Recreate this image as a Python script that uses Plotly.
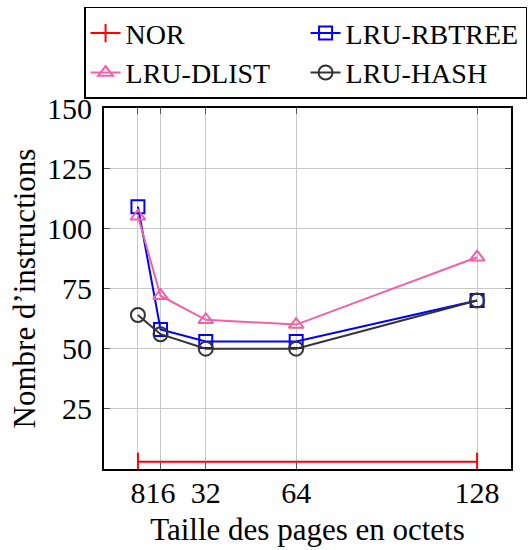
import plotly.graph_objects as go

page_sizes = [8, 16, 32, 64, 128]
nor_x = [8, 128]
nor_y = [3, 3]
rbtree = [109, 58, 53, 53, 70]
dlist = [105, 72, 62, 60, 88]
hashv = [64, 56, 50, 50, 70]
y_ticks = [25, 50, 75, 100, 125, 150]

FONT = "Liberation Serif, serif"

fig = go.Figure()
fig.add_trace(go.Scatter(x=nor_x, y=nor_y, name="NOR", mode="lines+markers",
                         line=dict(color="#ff0000", width=2),
                         marker=dict(symbol="line-ns-open", size=13,
                                     line=dict(color="#ff0000", width=2))))
fig.add_trace(go.Scatter(x=page_sizes, y=rbtree, name="LRU-RBTREE", mode="lines+markers",
                         line=dict(color="#0000ff", width=2),
                         marker=dict(symbol="square-open", size=13,
                                     line=dict(color="#0000ff", width=2))))
fig.add_trace(go.Scatter(x=page_sizes, y=dlist, name="LRU-DLIST", mode="lines+markers",
                         line=dict(color="#f062a6", width=2),
                         marker=dict(symbol="triangle-up-open", size=13,
                                     line=dict(color="#f062a6", width=2))))
fig.add_trace(go.Scatter(x=page_sizes, y=hashv, name="LRU-HASH", mode="lines+markers",
                         line=dict(color="#333333", width=2),
                         marker=dict(symbol="circle-open", size=14,
                                     line=dict(color="#333333", width=2))))

axis_common = dict(showline=True, linecolor="black", linewidth=2, mirror="ticks",
                   ticks="inside", ticklen=6, tickcolor="#555555", tickwidth=1,
                   showgrid=True, gridcolor="#c8c8c8", gridwidth=1, zeroline=False,
                   tickfont=dict(family=FONT, size=30, color="black"))

fig.update_xaxes(range=[-4, 140], tickmode="array", tickvals=page_sizes,
                 ticktext=[str(v) for v in page_sizes], tickangle=0, ticklabelstandoff=-4,
                 title=dict(text="Taille des pages en octets",
                            font=dict(family=FONT, size=31, color="black"), standoff=10),
                 **axis_common)
fig.update_yaxes(range=[0, 150], tickmode="array", tickvals=y_ticks,
                 ticktext=[str(v) for v in y_ticks], ticklabelstandoff=4,
                 title=dict(text="Nombre d’instructions",
                            font=dict(family=FONT, size=31, color="black"), standoff=2),
                 **axis_common)

fig.update_layout(
    width=532, height=550,
    margin=dict(l=104, r=21, t=108, b=81, autoexpand=False),
    plot_bgcolor="white", paper_bgcolor="white",
    font=dict(family=FONT, size=28, color="black"),
    legend=dict(orientation="h", x=-0.049, y=1.28, xanchor="left", yanchor="top",
                bgcolor="white", bordercolor="black", borderwidth=1.5,
                entrywidth=175, traceorder="normal",
                font=dict(family=FONT, size=28, color="black")),
)

fig.write_html("out.html", config={"displayModeBar": False},
               post_script="document.body.style.margin='0';document.body.style.padding='0';")
